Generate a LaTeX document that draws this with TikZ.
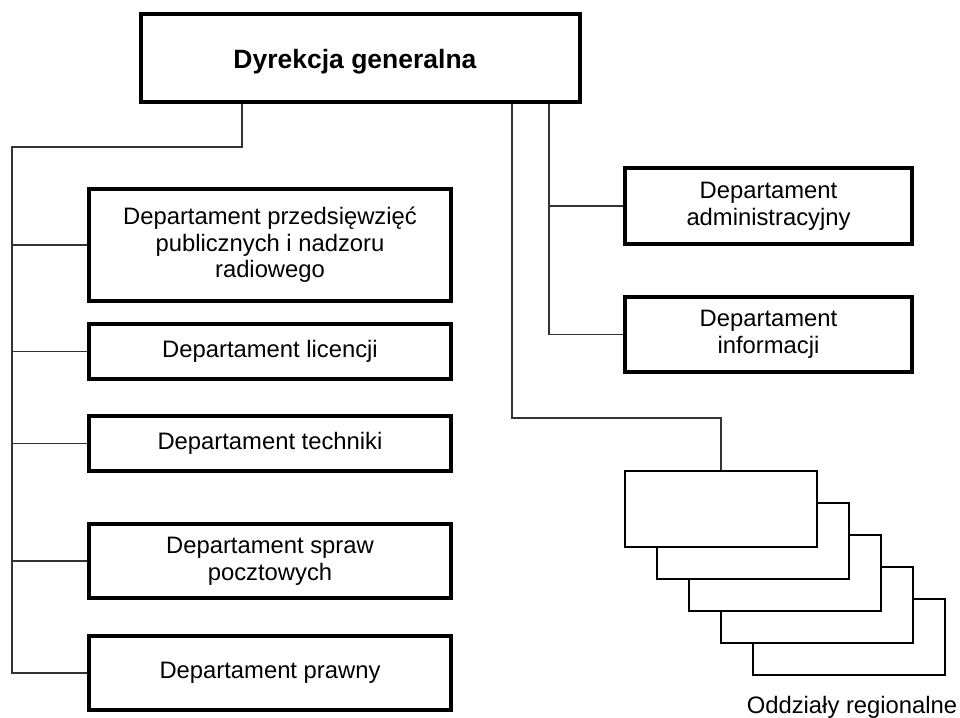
\documentclass[tikz,border=0pt]{standalone}
\usepackage{fontspec}
\setmainfont{Liberation Sans}
\begin{document}
\begin{tikzpicture}[x=1pt,y=-1pt,
  unitbox/.style={draw=black, line width=3.4pt, fill=white, align=center,
    inner sep=0pt, font=\fontsize{23.8}{26.7}\selectfont},
  headbox/.style={draw=black, line width=4.2pt, fill=white, inner sep=0pt},
  headtext/.style={anchor=base, inner sep=0pt, font=\fontsize{26.5}{29}\selectfont\bfseries},
  branchbox/.style={draw=black, line width=1.3pt, fill=white, inner sep=0pt,
    minimum width=192pt, minimum height=76pt},
  link/.style={draw=black!80, line width=1.1pt}]
\useasboundingbox (0,0) rectangle (960,717);

% head office
\node[headbox, minimum width=439pt, minimum height=88pt] (top) at (360.5,58) {};
\node[headtext] (toptext) at (355,68) {Dyrekcja generalna};

% departments on the left
\node[unitbox, minimum width=362pt, minimum height=112pt] (b1) at (270,245)
  {Departament przedsięwzięć\\publicznych i nadzoru\\radiowego};
\node[unitbox, minimum width=362pt, minimum height=55pt] (b2) at (270,351.5) {Departament licencji};
\node[unitbox, minimum width=362pt, minimum height=55pt] (b3) at (270,443.5) {Departament techniki};
\node[unitbox, minimum width=362pt, minimum height=74pt] (b4) at (270,561) {Departament spraw\\pocztowych};
\node[unitbox, minimum width=362pt, minimum height=74pt] (b5) at (270,673) {Departament prawny};

% departments on the right
\node[unitbox, minimum width=287pt, minimum height=76pt] (admin) at (768.5,206) {Departament\\administracyjny};
\node[unitbox, minimum width=287pt, minimum height=75pt] (info) at (768.5,334.5) {Departament\\informacji};

% stack of regional branches, back to front
\node[branchbox] (reg5) at (849,637) {};
\node[branchbox] (reg4) at (817,605) {};
\node[branchbox] (reg3) at (785,573) {};
\node[branchbox] (reg2) at (753,541) {};
\node[branchbox] (reg1) at (721,509) {};
\node[anchor=base, font=\fontsize{23.8}{26.7}\selectfont] (reglabel) at (852,713) {Oddziały regionalne};

% connectors on the left
\coordinate (lt) at (242,147);
\coordinate (lx) at (12,147);
\draw[link] (top.south -| lt) -- (lt) -- (lx) |- (b5.west);
\foreach \b in {b1,b2,b3,b4} \draw[link] (lx |- \b.west) -- (\b.west);

% connectors on the right
\coordinate (rx) at (549,0);
\draw[link] (top.south -| rx) |- (info.west);
\draw[link] (rx |- admin.west) -- (admin.west);
\coordinate (rr) at (512,418);
\draw[link] (top.south -| rr) -- (rr) -| (reg1.north);
\end{tikzpicture}
\end{document}
